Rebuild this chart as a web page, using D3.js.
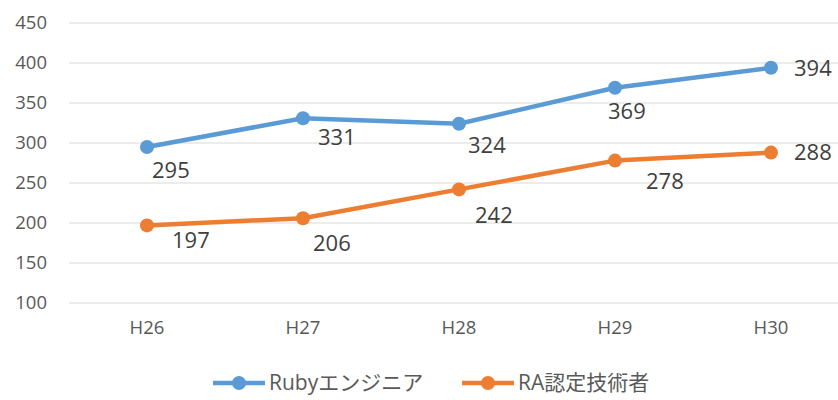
<!DOCTYPE html>
<html>
<head>
<meta charset="utf-8">
<script src="https://cdn.jsdelivr.net/npm/d3@7"></script>
<style>
  body { margin: 0; background: #fff; }
  text { font-family: "Open Sans", "Noto Sans CJK JP", sans-serif; }
</style>
</head>
<body>
<div class="canvas"></div>
<script>
const categories = ['H26', 'H27', 'H28', 'H29', 'H30'];
const rubyValues = [295, 331, 324, 369, 394];
const raValues = [197, 206, 242, 278, 288];
const seriesNames = ['Rubyエンジニア', 'RA認定技術者'];
const yTicks = [100, 150, 200, 250, 300, 350, 400, 450];

// label offsets from each point (left edge of text, baseline shift)
const rubyLabelOffsets = [[5, 23], [15, 19], [9, 21], [-7, 23], [23, 0]];
const raLabelOffsets = [[25, 15], [10, 25], [16, 26], [31, 21], [23, 0]];

const width = 838, height = 400;
const svg = d3.select('.canvas')
  .append('svg')
    .attr('width', width)
    .attr('height', height);

const x = d3.scaleBand()
  .domain(categories)
  .range([69, 849])
  .padding(0);
const y = d3.scaleLinear()
  .domain([100, 450])
  .range([303, 23]);

//gridlines
svg.append('g')
  .selectAll('line')
  .data(yTicks)
  .enter().append('line')
    .attr('x1', 69)
    .attr('x2', width)
    .attr('y1', d => y(d))
    .attr('y2', d => y(d))
    .attr('stroke', '#d9d9d9')
    .attr('stroke-width', 1);

//y axis labels
const yAxis = d3.axisLeft(y).tickValues(yTicks).tickSize(0).tickPadding(0);
const yAxisGroup = svg.append('g')
  .attr('transform', 'translate(47,0)')
  .call(yAxis);
yAxisGroup.select('.domain').remove();
yAxisGroup.selectAll('text')
  .attr('fill', '#595959')
  .style('font-size', '18.5px');

//x axis labels
const xAxis = d3.axisBottom(x).tickSize(0).tickPadding(0);
const xAxisGroup = svg.append('g')
  .attr('transform', 'translate(0,321)')
  .call(xAxis);
xAxisGroup.select('.domain').remove();
xAxisGroup.selectAll('text')
  .attr('fill', '#595959')
  .style('font-size', '18.5px');

const cx = d => x(d) + x.bandwidth() / 2;

const series = [
  {name: seriesNames[0], values: rubyValues, color: '#5b9bd5', offsets: rubyLabelOffsets},
  {name: seriesNames[1], values: raValues, color: '#ed7d31', offsets: raLabelOffsets}
];

const line = d3.line()
  .x((d, i) => cx(categories[i]))
  .y(d => y(d));

series.forEach(s => {
  svg.append('path')
    .datum(s.values)
    .attr('d', line)
    .attr('fill', 'none')
    .attr('stroke', s.color)
    .attr('stroke-width', 4.5)
    .attr('stroke-linejoin', 'round');
  svg.append('g')
    .selectAll('circle')
    .data(s.values)
    .enter().append('circle')
      .attr('cx', (d, i) => cx(categories[i]))
      .attr('cy', d => y(d))
      .attr('r', 7)
      .attr('fill', s.color);
  svg.append('g')
    .selectAll('text')
    .data(s.values)
    .enter().append('text')
      .attr('x', (d, i) => cx(categories[i]) + s.offsets[i][0])
      .attr('y', (d, i) => y(d) + s.offsets[i][1])
      .attr('dy', '0.35em')
      .attr('fill', '#404040')
      .style('font-size', '22px')
      .text(d => d);
});

//legend
const legendX = [213, 462];
const legend = svg.append('g');
series.forEach((s, i) => {
  const g = legend.append('g').attr('transform', `translate(${legendX[i]},383)`);
  g.append('line')
    .attr('x1', 0).attr('x2', 52)
    .attr('stroke', s.color)
    .attr('stroke-width', 4.5);
  g.append('circle')
    .attr('cx', 26).attr('r', 7)
    .attr('fill', s.color);
  g.append('text')
    .attr('x', 56)
    .attr('dy', '0.35em')
    .attr('fill', '#595959')
    .style('font-size', '21px')
    .text(s.name);
});
</script>
</body>
</html>
